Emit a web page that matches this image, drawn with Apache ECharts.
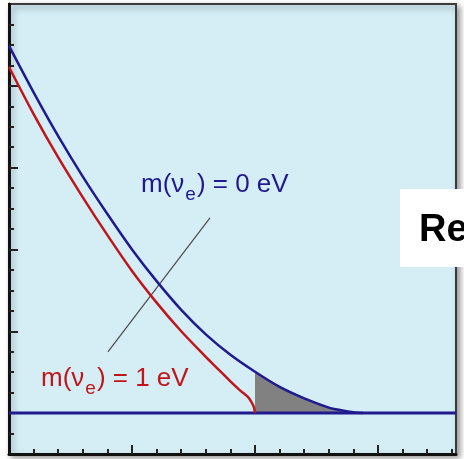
<!DOCTYPE html>
<html>
<head>
<meta charset="utf-8">
<script src="https://cdn.jsdelivr.net/npm/echarts@6/dist/echarts.min.js"></script>
<style>
  html, body { margin: 0; padding: 0; background: #ffffff; }
  #chart { width: 464px; height: 459px; }
</style>
</head>
<body>
<div id="chart"></div>
<script>
// Beta spectrum near the endpoint for two neutrino masses (arbitrary units)
const blueCurve = [
  [0, 19.95], [1, 17.68], [2, 15.54], [3, 13.56], [4, 11.73], [5, 10.0],
  [6, 8.45], [7, 7.05], [8, 5.85], [9, 4.85], [10, 4.02], [11, 3.28],
  [12, 2.72], [13, 2.27], [13.5, 2.14], [14, 2.04], [14.4, 2.0]
];
const redCurve = [
  [0, 18.92], [1, 16.62], [2, 14.5], [3, 12.55], [4, 10.7], [5, 8.95],
  [6, 7.4], [7, 6.0], [8, 4.75], [8.5, 4.15], [9, 3.55], [9.4, 3.1],
  [9.7, 2.8], [9.85, 2.55], [9.95, 2.3], [10, 2.0]
];
const baselineLevel = 2;
const xRange = [0, 18.17];
const yRange = [0, 22];
const leaderLine = [[4.02, 4.99], [8.17, 11.54]];

const xTicksMinor = [1, 2, 3, 4, 6, 7, 8, 9, 11, 12, 13, 14, 16, 17, 18];
const xTicksMajor = [5, 10, 15];
const yTicksMinor = [1, 3, 4, 5, 7, 8, 9, 11, 12, 13, 15, 16, 17, 19, 20, 21];
const yTicksMajor = [2, 6, 10, 14, 18];

const labelZero = 'm(ν|e|) = 0 eV';
const labelOne = 'm(ν|e|) = 1 eV';
const boxText = 'Re';

// region between the m = 0 curve and the baseline past the m = 1 endpoint
const redEnd = redCurve[redCurve.length - 1][0];
const grayArea = blueCurve.filter(p => p[0] >= redEnd);

const NAVY = '#1f1b8f';
const RED = '#c0161b';

function richLabel(str, color, left, top) {
  const parts = str.split('|');
  return {
    type: 'text', left: left, top: top, z: 50,
    style: {
      text: '{a|' + parts[0] + '}{s|' + parts[1] + '}{a|' + parts[2] + '}',
      rich: {
        a: { fontSize: 26, lineHeight: 32, verticalAlign: 'top', fill: color,
             fontFamily: 'Liberation Sans, Arial, sans-serif' },
        s: { fontSize: 19, lineHeight: 16, verticalAlign: 'bottom', fill: color,
             padding: [0, 1, 0, 1],
             fontFamily: 'Liberation Sans, Arial, sans-serif' }
      }
    }
  };
}

function tickAxis(range, values, len, showLine) {
  return {
    type: 'value', min: range[0], max: range[1],
    axisLine: { show: showLine, onZero: false, lineStyle: { color: '#111', width: 3 } },
    axisTick: { show: true, inside: true, length: len, customValues: values,
                lineStyle: { color: '#222', width: 2 } },
    axisLabel: { show: false },
    splitLine: { show: false }
  };
}

const chart = echarts.init(document.getElementById('chart'), null, { renderer: 'canvas' });
chart.setOption({
  animation: false,
  backgroundColor: '#ffffff',
  grid: {
    left: 9, right: 8, top: 4, bottom: 5,
    show: true, backgroundColor: '#d5eef5',
    borderColor: '#3a3a3a', borderWidth: 2,
    shadowColor: 'rgba(0,0,0,0.4)', shadowBlur: 6, shadowOffsetX: 3, shadowOffsetY: 3
  },
  xAxis: [
    Object.assign(tickAxis(xRange, xTicksMinor, 5, true), { position: 'bottom' }),
    Object.assign(tickAxis(xRange, xTicksMajor, 9, false), { position: 'bottom' })
  ],
  yAxis: [
    Object.assign(tickAxis(yRange, yTicksMinor, 5, true), { position: 'left' }),
    Object.assign(tickAxis(yRange, yTicksMajor, 9, false), { position: 'left' })
  ],
  series: [
    {
      type: 'line', data: grayArea, symbol: 'none', smooth: 0.3,
      lineStyle: { width: 0 },
      areaStyle: { color: '#818181', opacity: 1, origin: baselineLevel },
      z: 2
    },
    {
      type: 'line', data: [[xRange[0], baselineLevel], [xRange[1], baselineLevel]],
      symbol: 'none', lineStyle: { color: NAVY, width: 3 }, z: 3
    },
    {
      type: 'line', data: leaderLine, symbol: 'none',
      lineStyle: { color: '#4a4a4a', width: 1.2 }, z: 3
    },
    {
      type: 'line', data: redCurve, symbol: 'none', smooth: 0.3,
      lineStyle: { color: RED, width: 2.5 }, z: 4
    },
    {
      type: 'line', data: blueCurve, symbol: 'none', smooth: 0.3,
      lineStyle: { color: NAVY, width: 2.5 }, z: 5
    }
  ],
  graphic: [
    richLabel(labelZero, NAVY, 141, 172),
    richLabel(labelOne, RED, 41, 366),
    {
      type: 'rect', left: 400, top: 189, z: 60,
      shape: { width: 70, height: 78 },
      style: { fill: '#ffffff' }
    },
    {
      type: 'text', left: 419, top: 212, z: 61,
      style: { text: boxText, fill: '#000000',
               font: 'bold 38px Liberation Sans, Arial, sans-serif' }
    }
  ]
});
</script>
</body>
</html>
